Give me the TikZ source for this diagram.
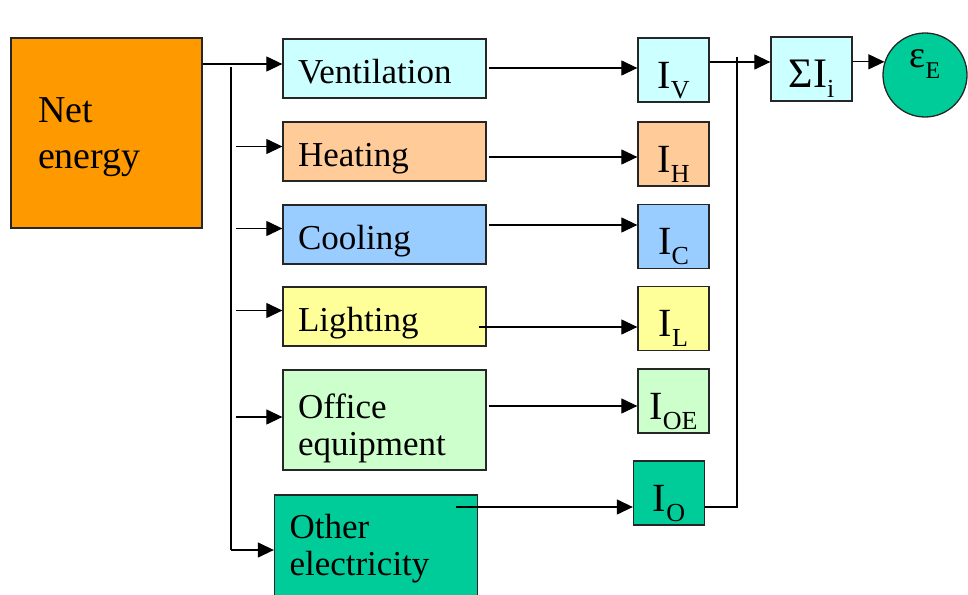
\documentclass[tikz,border=0pt]{standalone}
\usepackage{fontspec}
\setmainfont{Liberation Serif}
\usetikzlibrary{arrows.meta}

\definecolor{netOrange}{HTML}{FF9900}
\definecolor{ventCyan}{HTML}{CCFFFF}
\definecolor{heatPeach}{HTML}{FFCC99}
\definecolor{coolBlue}{HTML}{99CCFF}
\definecolor{lightYellow}{HTML}{FFFF99}
\definecolor{officeGreen}{HTML}{CCFFCC}
\definecolor{otherGreen}{HTML}{00CC99}

% lowered small index after a letter
\newcommand{\subtxt}[1]{\raisebox{-10pt}{\fontsize{26}{26}\selectfont #1}}

\begin{document}
\begin{tikzpicture}[x=1pt, y=-1pt,
    % Define the styles for the boxes and the connectors
    netbox/.style={rectangle, draw=black!85, line width=1.3pt, fill=netOrange, minimum width=191pt, minimum height=190pt, inner xsep=27pt, text width=137pt, align=left, text height=26pt, text depth=48pt, font=\fontsize{38}{46}\selectfont},
    usebox/.style={rectangle, draw=black!85, line width=1.3pt, minimum width=203pt, inner xsep=15pt, text width=173pt, align=left, font=\fontsize{35}{37}\selectfont},
    oneline/.style={text height=29pt, text depth=0pt},
    ibox/.style={rectangle, draw=black!85, line width=1.3pt, minimum width=71pt, minimum height=64pt, inner sep=0pt, text height=40pt, text depth=4pt, font=\fontsize{40}{40}\selectfont},
    epsnode/.style={circle, draw=black!85, line width=1.3pt, fill=otherGreen, minimum size=84pt, inner sep=0pt, text height=4pt, text depth=20pt, font=\fontsize{38}{38}\selectfont},
    line/.style={line width=1.2pt},
    arr/.style={line, -{Triangle[length=16pt, width=15pt]}}
]
    \useasboundingbox (0,0) rectangle (968,594);

    % Net energy on the left
    \node[netbox] (net) at (106.5,133) {Net\\energy};

    % The end uses, one box each
    \foreach \name/\y/\col/\txt in {vent/68.5/ventCyan/Ventilation, heat/151.5/heatPeach/Heating, cool/234.5/coolBlue/Cooling, light/316.5/lightYellow/Lighting} {
        \node[usebox, oneline, fill=\col, minimum height=59pt] (\name) at (384.5,\y) {\txt};
    }
    \node[usebox, fill=officeGreen, minimum height=100pt, text height=25pt, text depth=29pt] (office) at (384.5,420) {Office\\equipment};
    \node[usebox, fill=otherGreen, minimum height=107pt] (other) at (376,548.5) {Other\\electricity};

    % The indicators I_x
    \foreach \name/\x/\y/\col/\s in {iV/673.5/70/ventCyan/V, iH/673.5/154/heatPeach/H, iC/673.5/236.5/coolBlue/C, iL/673.5/318.5/lightYellow/L, iOE/673.5/401/officeGreen/OE, iO/669/493/otherGreen/O} {
        \node[ibox, fill=\col] (\name) at (\x,\y) {I\subtxt{\s}};
    }

    % Sum and result
    \node[ibox, fill=ventCyan, minimum width=81pt, font=\fontsize{42}{42}\selectfont] (sum) at (811.5,69) {ΣI\subtxt{i}};
    \node[epsnode] (eps) at (925,75) {ε\raisebox{-11pt}{\fontsize{24}{24}\selectfont E}};

    % Feed from net energy
    \coordinate (busTop) at (231,64);
    \coordinate (busBot) at (231,550);
    \draw[arr] (net.east |- busTop) -- (vent.west |- busTop);
    \draw[line] ([yshift=-3pt]busTop) -- (busBot);
    \foreach \b/\dy in {heat/5, cool/6, light/6, office/3} {
        \draw[arr] (busTop |- \b.west) ++(5,-\dy) -- ([yshift=\dy pt]\b.west);
    }
    \draw[arr] (busBot) -- (other.west |- busBot);

    % From the end uses to the indicators
    \foreach \a/\b/\y/\dx in {vent/iV/68/2, heat/iH/157/2, cool/iC/225/2, light/iL/327/-8, office/iOE/406/2, other/iO/507/-22} {
        \draw[arr] (\a.east |- 0,\y) ++(\dx,0) -- (\b.west |- 0,\y);
    }

    % Collect the indicators
    \coordinate (collect) at (737,57);
    \draw[arr] (iV.east |- 0,62) -- (sum.west |- 0,62);
    \draw[line] (iO.east |- 0,507) -| (collect);
    \draw[arr] (sum.east |- eps.162) -- (eps.162);

\end{tikzpicture}
\end{document}
